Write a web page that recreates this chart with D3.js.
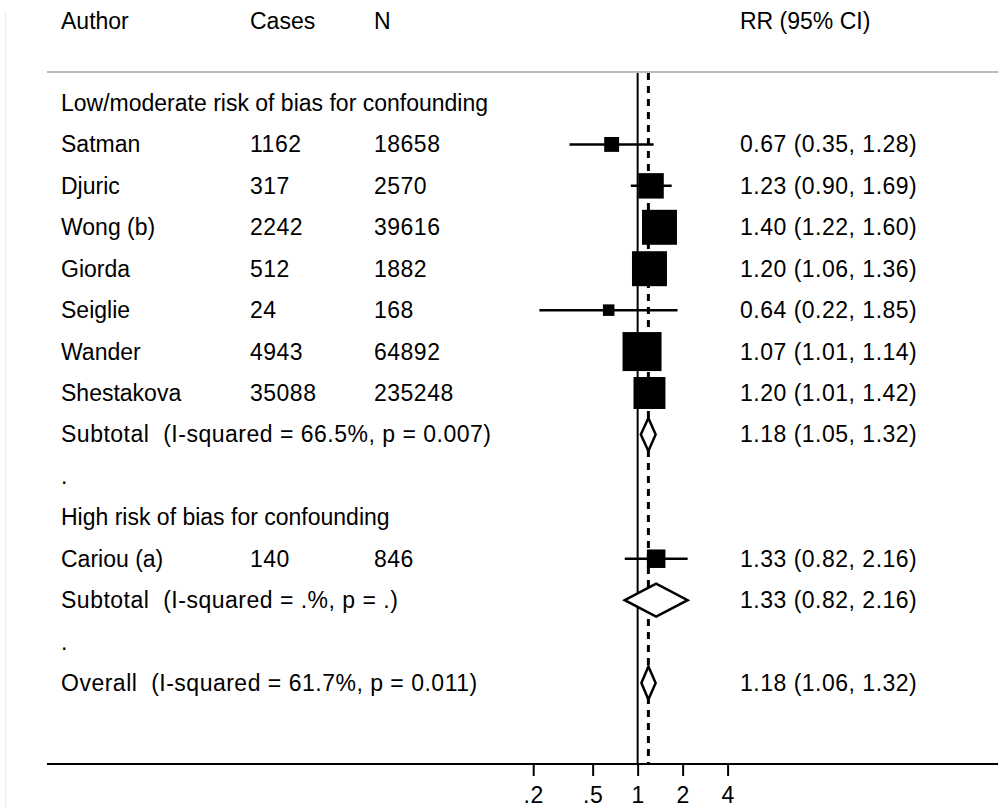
<!DOCTYPE html>
<html>
<head>
  <title>Forest plot</title>
  <script src="https://d3js.org/d3.v7.min.js"></script>
  <style>
    body { margin: 0; background: #fff; }
    text { font-family: "Liberation Sans", Arial, sans-serif; font-size: 23px; fill: #000; white-space: pre; }
    text.num { letter-spacing: 0.5px; }
  </style>
</head>
<body>
<div id="vis"></div>
<script>
  // study level data
  var groups = ["Low/moderate risk of bias for confounding", "High risk of bias for confounding"]
  var authors = ["Satman", "Djuric", "Wong (b)", "Giorda", "Seiglie", "Wander", "Shestakova", "Cariou (a)"]
  var studyGroup = [0, 0, 0, 0, 0, 0, 0, 1]
  var cases = [1162, 317, 2242, 512, 24, 4943, 35088, 140]
  var ns = [18658, 2570, 39616, 1882, 168, 64892, 235248, 846]
  var rr = [0.67, 1.23, 1.40, 1.20, 0.64, 1.07, 1.20, 1.33]
  var lo = [0.35, 0.90, 1.22, 1.06, 0.22, 1.01, 1.01, 0.82]
  var hi = [1.28, 1.69, 1.60, 1.36, 1.85, 1.14, 1.42, 2.16]
  var weights = [3.5, 10.2, 19.3, 19.3, 2.1, 24.0, 16.1, 5.4]

  // pooled estimates
  var subLabels = ["Subtotal  (I-squared = 66.5%, p = 0.007)", "Subtotal  (I-squared = .%, p = .)"]
  var subRR = [1.18, 1.33]
  var subLo = [1.05, 0.82]
  var subHi = [1.32, 2.16]
  var overallLabel = "Overall  (I-squared = 61.7%, p = 0.011)"
  var overallRR = 1.18, overallLo = 1.06, overallHi = 1.32

  var tickValues = [0.2, 0.5, 1, 2, 4]
  var tickLabels = [".2", ".5", "1", "2", "4"]

  var W = 998, H = 808
  var svg = d3.select("#vis").append("svg").attr("width", W).attr("height", H)

  // build rows
  var rows = []
  groups.forEach(function(g, gi) {
    rows.push({type: "group", label: g})
    authors.forEach(function(a, i) {
      if (studyGroup[i] == gi) rows.push({type: "study", i: i})
    })
    rows.push({type: "sub", gi: gi})
    rows.push({type: "dot"})
  })
  rows.push({type: "overall"})

  var x = d3.scaleLog().domain([0.2, 4]).range([533.2, 727.6])
  var y = d3.scaleLinear().domain([0, rows.length - 1]).range([103, 683])
  var size = d3.scaleSqrt().domain([0, 24]).range([0, 39])
  var fmt = d3.format(".2f")
  var ciText = function(a, b, c) { return fmt(a) + " (" + fmt(b) + ", " + fmt(c) + ")" }

  var colAuthor = 61, colCases = 250, colN = 374, colRR = 740
  var plotTop = 72, axisY = 764

  function label(g, xp, yp, t, cls) {
    return g.append("text").attr("class", cls || null).attr("x", xp).attr("y", yp).attr("dy", "0.35em").text(t)
  }

  // faint left border
  svg.append("line").attr("x1", 5.5).attr("x2", 5.5).attr("y1", 12).attr("y2", H)
    .attr("stroke", "#ececec").attr("stroke-width", 1)

  // header
  var header = [["Author", colAuthor], ["Cases", colCases], ["N", colN], ["RR (95% CI)", colRR]]
  header.forEach(function(h) { label(svg, h[1], 21, h[0]) })
  svg.append("line").attr("x1", 47).attr("x2", W).attr("y1", plotTop).attr("y2", plotTop)
    .attr("stroke", "#bdbdbd").attr("stroke-width", 2)

  // reference lines
  svg.append("line").attr("x1", x(1)).attr("x2", x(1)).attr("y1", plotTop + 1).attr("y2", axisY)
    .attr("stroke", "#000").attr("stroke-width", 2)
  svg.append("line").attr("x1", x(overallRR)).attr("x2", x(overallRR)).attr("y1", plotTop + 1).attr("y2", axisY)
    .attr("stroke", "#000").attr("stroke-width", 3).attr("stroke-dasharray", "7,6")

  function diamond(g, yc, est, l, h) {
    var hh = 16.5
    g.append("path")
      .attr("d", "M" + x(l) + "," + yc + "L" + x(est) + "," + (yc - hh) + "L" + x(h) + "," + yc + "L" + x(est) + "," + (yc + hh) + "Z")
      .attr("fill", "#fff").attr("stroke", "#000").attr("stroke-width", 2.5)
  }

  rows.forEach(function(r, ri) {
    var yc = y(ri)
    var g = svg.append("g")
    if (r.type == "group") {
      label(g, colAuthor, yc, r.label)
    } else if (r.type == "dot") {
      label(g, colAuthor, yc, ".")
    } else if (r.type == "study") {
      var i = r.i
      label(g, colAuthor, yc, authors[i])
      label(g, colCases, yc, cases[i], "num")
      label(g, colN, yc, ns[i], "num")
      label(g, colRR, yc, ciText(rr[i], lo[i], hi[i]), "num")
      var s = size(weights[i])
      g.append("rect").attr("x", x(rr[i]) - s / 2).attr("y", yc - s / 2)
        .attr("width", s).attr("height", s).attr("fill", "#000")
      g.append("line").attr("x1", x(lo[i])).attr("x2", x(hi[i])).attr("y1", yc).attr("y2", yc)
        .attr("stroke", "#000").attr("stroke-width", 2.5)
    } else if (r.type == "sub") {
      label(g, colAuthor, yc, subLabels[r.gi], "num")
      label(g, colRR, yc, ciText(subRR[r.gi], subLo[r.gi], subHi[r.gi]), "num")
      diamond(g, yc, subRR[r.gi], subLo[r.gi], subHi[r.gi])
    } else {
      label(g, colAuthor, yc, overallLabel, "num")
      label(g, colRR, yc, ciText(overallRR, overallLo, overallHi), "num")
      diamond(g, yc, overallRR, overallLo, overallHi)
    }
  })

  // x axis
  svg.append("line").attr("x1", 47).attr("x2", W).attr("y1", axisY).attr("y2", axisY)
    .attr("stroke", "#000").attr("stroke-width", 2)
  var xAxis = d3.axisBottom(x).tickValues(tickValues)
    .tickFormat(function(d, i) { return tickLabels[i] })
    .tickSize(12).tickSizeOuter(0).tickPadding(11)
  var ax = svg.append("g").attr("transform", "translate(0," + axisY + ")").call(xAxis)
  ax.select(".domain").remove()
  ax.selectAll(".tick line").attr("stroke", "#000").attr("stroke-width", 2)
  ax.selectAll(".tick text").attr("font-size", null).attr("font-family", null).attr("class", "num")
</script>
</body>
</html>
